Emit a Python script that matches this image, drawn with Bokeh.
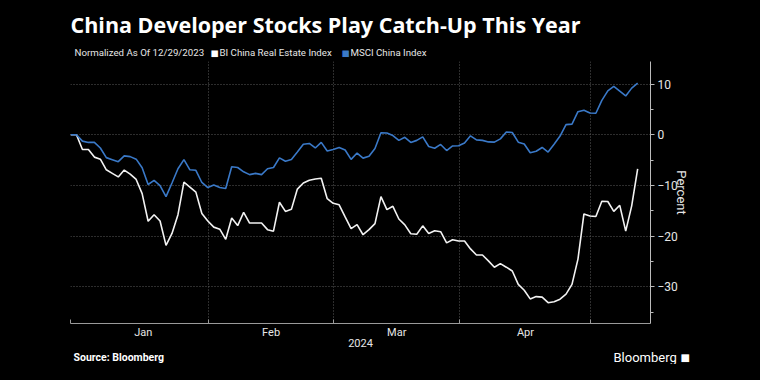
from bokeh.plotting import figure
from bokeh.layouts import column
from bokeh.models import Range1d, FixedTicker, Label, ColumnDataSource
from bokeh.embed import file_html
from bokeh.resources import INLINE

# ---- data (trading-day index from 12/29/2023) ----
msci_china = [0, 0, -1.25, -1.5, -1.5, -2.6, -4.5, -4.9, -5.3, -4.15,
              -4.3, -4.8, -6.5, -9.8, -9.0, -10.0, -12.2, -9.5, -6.7, -4.9,
              -6.9, -7.0, -9.4, -10.4, -9.9, -10.4, -10.6, -6.3, -6.45, -7.3,
              -7.85, -7.6, -7.85, -6.7, -6.45, -4.55, -5.2, -4.85, -3.4, -1.85,
              -1.7, -2.6, -1.5, -3.2, -2.9, -2.5, -3.0, -4.85, -3.6, -4.6,
              -4.25, -2.7, 0.4, 0.35, -0.15, -1.1, -0.5, -1.5, -1.1, -0.4,
              -2.3, -2.65, -1.9, -3.1, -2.2, -2.15, -1.6, -0.2, -1.0, -1.1,
              -1.4, -1.45, -0.8, 0.55, 0.45, -1.45, -1.8, -3.55, -3.25, -2.5,
              -3.4, -1.85, -0.25, 2.0, 2.1, 4.55, 4.85, 4.3, 4.25, 6.8,
              8.65, 9.55, 8.6, 7.65, 9.2, 10.2]
bi_real_estate = [0, 0, -2.9, -2.9, -4.4, -4.8, -6.9, -7.6, -8.3, -6.95,
                  -7.75, -8.8, -11.6, -17.05, -15.75, -17.0, -21.8, -19.45, -15.75, -9.35,
                  -10.3, -11.3, -15.5, -17.0, -18.2, -18.6, -20.6, -16.4, -17.9, -15.3,
                  -17.4, -17.4, -17.4, -18.7, -19.0, -13.3, -15.1, -14.7, -10.7, -9.5,
                  -8.95, -8.7, -8.55, -12.6, -13.5, -13.8, -16.2, -18.5, -17.7, -19.7,
                  -18.7, -17.5, -12.2, -14.75, -14.1, -16.6, -17.75, -19.5, -19.6, -17.95,
                  -19.45, -18.9, -19.1, -21.3, -20.7, -20.95, -20.95, -22.5, -23.7, -23.7,
                  -24.85, -26.1, -25.4, -26.1, -26.85, -29.5, -30.65, -32.35, -31.9, -32.0,
                  -33.1, -32.9, -32.4, -31.4, -29.5, -24.5, -15.6, -16.0, -16.1, -13.1,
                  -13.15, -15.1, -13.9, -19.0, -14.0, -6.7]
day_index = list(range(len(msci_china)))

month_labels = ["Jan", "Feb", "Mar", "Apr"]
month_label_pos = [12.2, 33.6, 54.65, 76.2]
month_bounds = [0.0, 23.15, 44.08, 65.23, 87.15]
x_end = 97.15
y_ticks = [-30, -20, -10, 0, 10]
y_minor = [-35, -25, -15, -5, 5]

FONT = "Roboto"
BLUE = "#3a79c8"
TXT = "#e6e6e6"
W = 744


def text_fig(height):
    f = figure(width=W, height=height, output_backend="svg", toolbar_location=None,
               x_range=Range1d(0, W), y_range=Range1d(height, 0),
               x_axis_type=None, y_axis_type=None, min_border=0, frame_align=False,
               background_fill_color="black", border_fill_color="black")
    f.outline_line_color = None
    return f


def lab(f, y0, text, px, py, size, color="#ffffff", style="normal", baseline="middle",
        align="left", font=FONT):
    f.add_layout(Label(x=px, y=py - y0, text=text, text_font=font, text_font_size=size,
                       text_color=color, text_font_style=style,
                       text_baseline=baseline, text_align=align))


# ---- header ----
head = text_fig(58)
lab(head, 0, "China Developer Stocks Play Catch-Up This Year", 70, 23.5, "21.5px", style="bold",
    font="Open Sans")
lab(head, 0, "Normalized As Of 12/29/2023", 74, 52, "9.7px", color=TXT)
lab(head, 0, "\u25A0", 210, 52, "8.5px", color="#ffffff", font="DejaVu Sans")
lab(head, 0, "BI China Real Estate Index", 219, 52, "9.7px", color=TXT)
lab(head, 0, "\u25A0", 341, 52, "8.5px", color=BLUE, font="DejaVu Sans")
lab(head, 0, "MSCI China Index", 350, 52, "9.7px", color=TXT)

# ---- main chart ----
src = ColumnDataSource(dict(x=day_index, msci=msci_china, bi=bi_real_estate))
p = figure(frame_width=580, frame_height=262, output_backend="svg", toolbar_location=None,
           x_range=Range1d(0, x_end), y_range=Range1d(-37.2, 14.45),
           y_axis_location="right", frame_align=False,
           background_fill_color="black", border_fill_color="black",
           min_border_left=70, min_border_right=94, min_border_top=3, min_border_bottom=28)
p.outline_line_color = None

p.line("x", "bi", source=src, line_color="#f2f2f2", line_width=1.6)
p.line("x", "msci", source=src, line_color=BLUE, line_width=1.6)

xax = p.xaxis[0]
xax.ticker = FixedTicker(ticks=month_label_pos, minor_ticks=month_bounds)
xax.major_label_overrides = {pos: lab_ for pos, lab_ in zip(month_label_pos, month_labels)}
xax.major_tick_line_color = None
xax.major_tick_out = 0
xax.major_tick_in = 0
xax.minor_tick_line_color = "#9a9a9a"
xax.minor_tick_in = 4
xax.minor_tick_out = 0
xax.axis_line_color = "#9a9a9a"
xax.major_label_text_color = TXT
xax.major_label_text_font = FONT
xax.major_label_text_font_size = "11px"
xax.major_label_standoff = 2
xax.axis_label = "2024"
xax.axis_label_text_color = TXT
xax.axis_label_text_font = FONT
xax.axis_label_text_font_size = "11px"
xax.axis_label_text_font_style = "normal"
xax.axis_label_standoff = -3

yax = p.yaxis[0]
yax.ticker = FixedTicker(ticks=y_ticks, minor_ticks=y_minor)
yax.major_tick_out = 4
yax.major_tick_in = 0
yax.minor_tick_out = 3
yax.minor_tick_in = 0
yax.major_tick_line_color = "#bbbbbb"
yax.minor_tick_line_color = "#bbbbbb"
yax.axis_line_color = "#bbbbbb"
yax.major_label_text_color = TXT
yax.major_label_text_font = FONT
yax.major_label_text_font_size = "12px"
yax.major_label_standoff = 3
yax.axis_label = "Percent"
yax.axis_label_text_color = TXT
yax.axis_label_text_font = FONT
yax.axis_label_text_font_size = "13px"
yax.axis_label_text_font_style = "normal"
yax.axis_label_standoff = -7

p.xgrid.ticker = FixedTicker(ticks=month_bounds[1:] + [x_end])
p.xgrid.grid_line_color = "#5a5a5a"
p.xgrid.grid_line_dash = "1 2"
p.ygrid.grid_line_color = "#5a5a5a"
p.ygrid.grid_line_dash = "1 2"

# ---- footer ----
foot_top = 351
foot = text_fig(364 - foot_top)
lab(foot, foot_top, "Source: Bloomberg", 73, 357, "10.5px", style="bold")
lab(foot, foot_top, "Bloomberg", 613, 357, "13px")
lab(foot, foot_top, "\u25A0", 680, 357, "10px", font="DejaVu Sans")

layout = column(head, p, foot, spacing=0, styles={"background-color": "black"})
html = file_html(layout, INLINE)
html = html.replace("<head>", "<head><style>html, body {background: #000;}</style>", 1)
open("out.html", "w").write(html)
